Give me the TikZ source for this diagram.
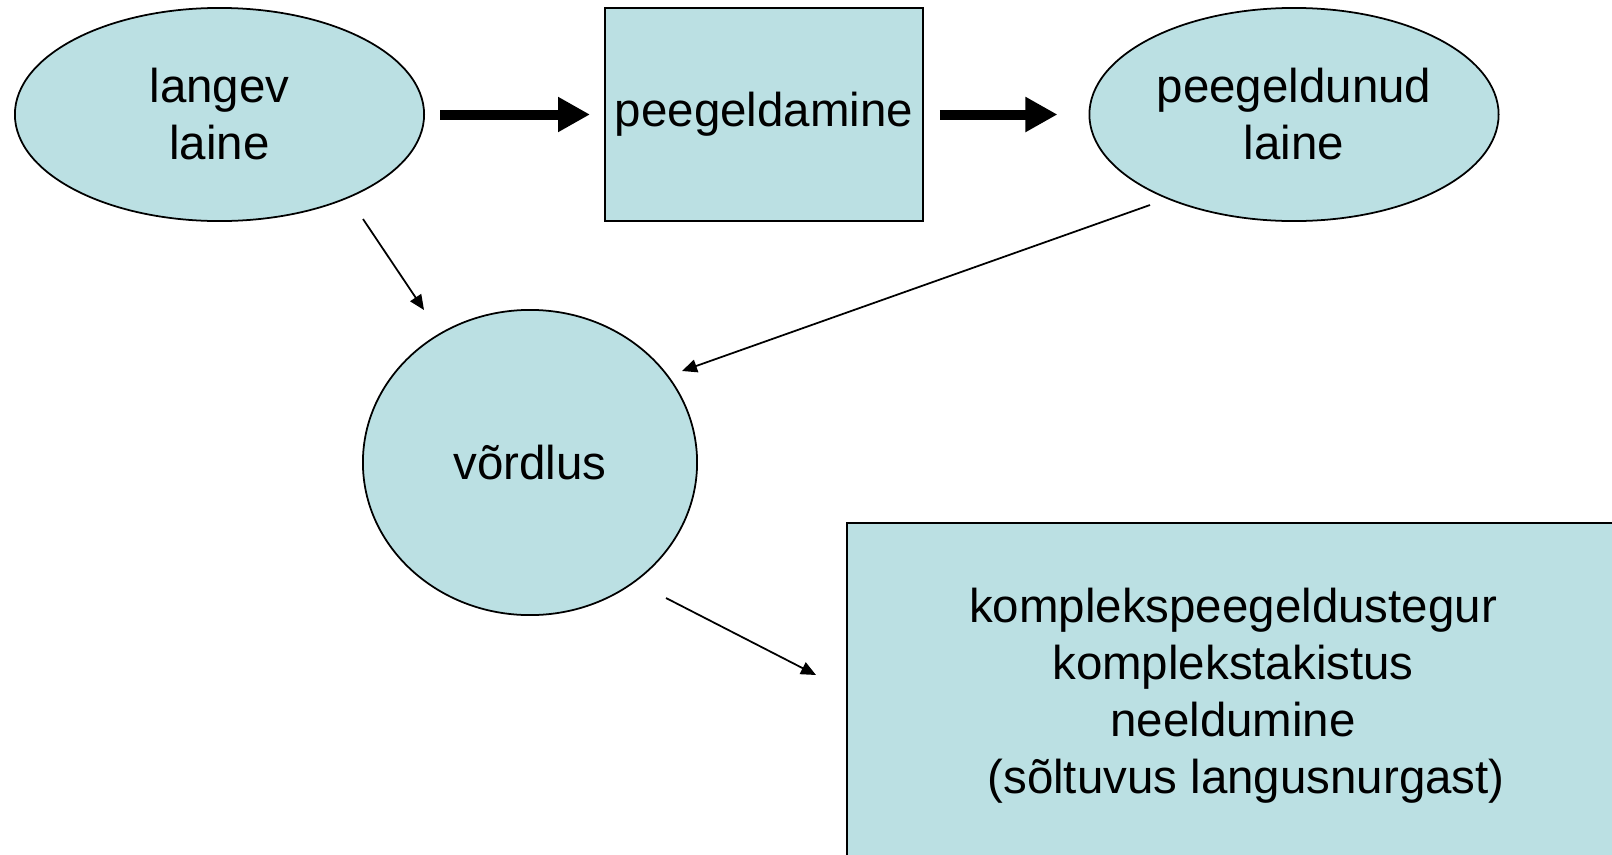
\documentclass[tikz,border=0pt]{standalone}
\usepackage{fontspec}
\setmainfont{Liberation Sans}
\usetikzlibrary{shapes.geometric,arrows.meta}
\definecolor{lightteal}{RGB}{187,224,227}
\tikzset{%
  block/.style={fill=lightteal, draw=black, line width=0.5pt, inner sep=0pt,
    align=center, font={\fontsize{13.5}{16.2}\selectfont}},
  wave/.style={ellipse, block, minimum width=4.09cm, minimum height=2.13cm},
  process/.style={rectangle, block},
  big arrow/.style={line width=0.1cm, -{Triangle[length=0.32cm,width=0.33cm]}},
  thin arrow/.style={line width=0.5pt, -{Triangle[length=0.15cm,width=0.13cm]}}
}

\begin{document}
\begin{tikzpicture}[x=0.01cm, y=-0.01cm]

          \clip (0, 0) rectangle (1612, 854);

          \node[wave] (incident) at (219.5, 114.5) {langev\\laine};
          \node[process, minimum width=3.18cm, minimum height=2.13cm] (reflection) at (764, 114.5) {peegeldamine};
          \node[wave] (reflected) at (1294, 114.5) {peegeldunud\\laine};
          \node[ellipse, block, minimum width=3.34cm, minimum height=3.05cm] (compare) at (530, 462.5) {võrdlus};
          \node[process, minimum width=7.72cm, minimum height=3.46cm] (result) at (1233, 696)
            {komplekspeegeldustegur\\komplekstakistus\\neeldumine\\\hspace*{0.55em}(sõltuvus langusnurgast)};

          \coordinate (incident out) at (363, 219);
          \coordinate (compare in) at (424, 310);
          \coordinate (reflected out) at (1150, 205);
          \coordinate (compare right) at (682, 371);
          \coordinate (compare out) at (666, 598);
          \coordinate (result in) at (816, 675);

          \draw[big arrow, shorten <=0.15cm, shorten >=0.14cm] (incident.east) -- (reflection.west);
          \draw[big arrow, shorten <=0.16cm, shorten >=0.31cm] (reflection.east) -- (reflected.west);
          \draw[thin arrow] (incident out) -- (compare in);
          \draw[thin arrow] (reflected out) -- (compare right);
          \draw[thin arrow] (compare out) -- (result in);
        \end{tikzpicture}
\end{document}
